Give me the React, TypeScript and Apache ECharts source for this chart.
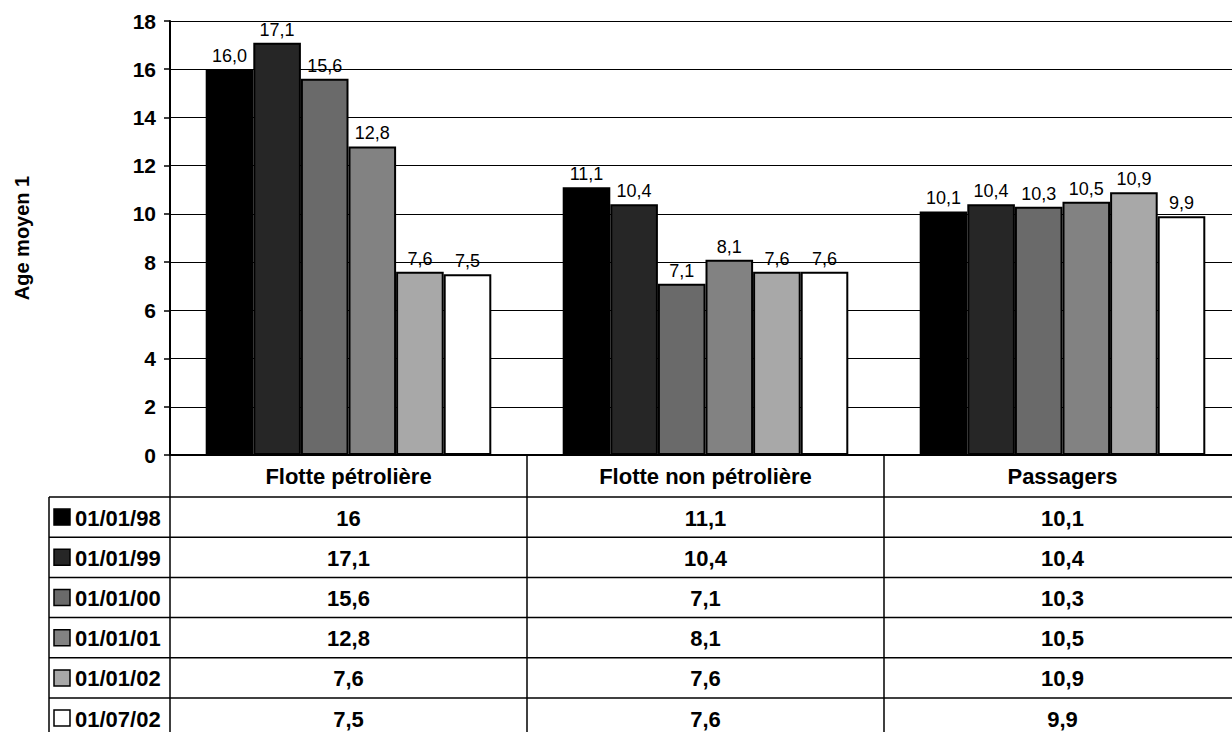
import React, { useEffect, useRef } from "react";
import * as echarts from "echarts";

const categories = ["Flotte pétrolière", "Flotte non pétrolière", "Passagers"];
const seriesNames = ["01/01/98", "01/01/99", "01/01/00", "01/01/01", "01/01/02", "01/07/02"];
const s98 = [16.0, 11.1, 10.1];
const s99 = [17.1, 10.4, 10.4];
const s00 = [15.6, 7.1, 10.3];
const s01 = [12.8, 8.1, 10.5];
const s02 = [7.6, 7.6, 10.9];
const s0702 = [7.5, 7.6, 9.9];
const seriesValues = [s98, s99, s00, s01, s02, s0702];
const yMin = 0;
const yMax = 18;
const yStep = 2;
const yAxisTitle = "Age moyen 1";

const colors = ["#000000", "#262626", "#6a6a6a", "#828282", "#a8a8a8", "#ffffff"];

const W = 1232;
const H = 732;
const FONT = '"Liberation Sans", Arial, Helvetica, sans-serif';
const GRID_LEFT = 170;
const GRID_TOP = 21;
const AXIS_Y = 455;
const GRID_RIGHT = -9;
const HEADER_BOTTOM = 497;
const ROW_H = 40.2;
const TABLE_LEFT = 49;

const fmtTable = (v: number) => String(v).replace(".", ",");
const fmtBar = (v: number) => v.toFixed(1).replace(".", ",");

export default function App() {
  const ref = useRef<HTMLDivElement>(null);
  useEffect(() => {
    if (!ref.current) return;
    const chart = echarts.init(ref.current, undefined, { renderer: "svg" });
    chart.setOption({
      animation: false,
      backgroundColor: "#ffffff",
      grid: {
        left: GRID_LEFT,
        top: GRID_TOP,
        right: GRID_RIGHT,
        bottom: H - AXIS_Y,
        containLabel: false,
        outerBoundsMode: "none",
      },
      xAxis: {
        type: "category",
        data: categories,
        axisLine: { show: true, lineStyle: { color: "#000", width: 2 } },
        axisTick: { show: true, interval: 0, alignWithLabel: false, length: H - AXIS_Y + 10, lineStyle: { color: "#000", width: 1.5 } },
        axisLabel: { interval: 0, margin: 10, color: "#000", fontFamily: FONT, fontWeight: "bold", fontSize: 22 },
        splitLine: { show: false },
      },
      yAxis: {
        type: "value",
        min: yMin,
        max: yMax,
        interval: yStep,
        name: yAxisTitle,
        nameLocation: "middle",
        nameRotate: 90,
        nameGap: 138,
        nameTextStyle: { color: "#000", fontFamily: FONT, fontWeight: "bold", fontSize: 20 },
        axisLine: { show: true, lineStyle: { color: "#000", width: 2 } },
        axisTick: { show: true, length: 6, lineStyle: { color: "#000", width: 1.5 } },
        axisLabel: { margin: 14, color: "#000", fontFamily: FONT, fontWeight: "bold", fontSize: 21 },
        splitLine: { show: true, lineStyle: { color: "#000", width: 1 } },
      },
      series: seriesNames.map((name, i) => ({
        name,
        type: "bar",
        data: seriesValues[i],
        barGap: "0%",
        barCategoryGap: "20%",
        itemStyle: { color: colors[i], borderColor: "#000", borderWidth: 2 },
        label: {
          show: true,
          position: "top",
          distance: 4,
          color: "#000",
          fontFamily: FONT,
          fontSize: 18,
          formatter: (p: any) => fmtBar(p.value),
        },
      })),
    });

    const centers = categories.map((c) => chart.convertToPixel({ xAxisIndex: 0 }, c) as number);
    const g: any[] = [];
    const lineStyle = { stroke: "#000", lineWidth: 1.5 };
    g.push({ type: "line", shape: { x1: TABLE_LEFT, y1: HEADER_BOTTOM, x2: TABLE_LEFT, y2: H + 10 }, style: lineStyle });
    for (let r = 0; r <= seriesNames.length; r++) {
      const y = HEADER_BOTTOM + r * ROW_H;
      g.push({ type: "line", shape: { x1: TABLE_LEFT, y1: y, x2: W + 10, y2: y }, style: lineStyle });
    }
    seriesNames.forEach((name, r) => {
      const yc = HEADER_BOTTOM + (r + 0.5) * ROW_H;
      g.push({
        type: "rect",
        shape: { x: 54, y: yc - 8, width: 16, height: 16 },
        style: { fill: colors[r], stroke: "#000", lineWidth: 1.5 },
      });
      g.push({
        type: "text",
        x: 75,
        y: yc + 1,
        style: {
          text: name,
          fill: "#000",
          font: `bold 22px ${FONT}`,
          textAlign: "left",
          textVerticalAlign: "middle",
          align: "left",
          verticalAlign: "middle",
        },
      });
      categories.forEach((_, c) => {
        g.push({
          type: "text",
          x: centers[c],
          y: yc + 1,
          style: {
            text: fmtTable(seriesValues[r][c]),
            fill: "#000",
            font: `bold 22px ${FONT}`,
            textAlign: "center",
            textVerticalAlign: "middle",
            align: "center",
            verticalAlign: "middle",
          },
        });
      });
    });
    chart.setOption({ graphic: g });

    return () => chart.dispose();
  }, []);
  return <div ref={ref} style={{ position: "absolute", left: 0, top: 0, width: W, height: H }} />;
}
